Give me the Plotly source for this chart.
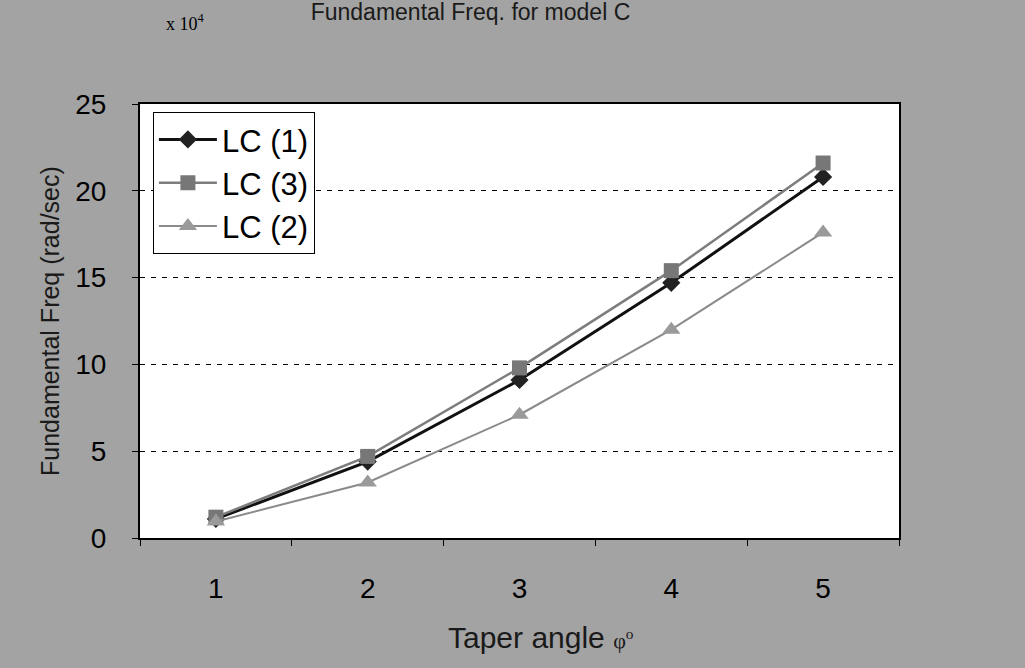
import plotly.graph_objects as go

categories = ["1", "2", "3", "4", "5"]
lc1 = [1.1, 4.4, 9.1, 14.7, 20.8]
lc3 = [1.2, 4.7, 9.8, 15.4, 21.6]
lc2 = [0.95, 3.2, 7.1, 12.0, 17.6]
y_ticks = [0, 5, 10, 15, 20, 25]

FONT = "Liberation Sans, Arial, sans-serif"

fig = go.Figure()
fig.add_trace(go.Scatter(x=categories, y=lc1, name="LC (1)", mode="lines+markers",
                         line=dict(color="#111111", width=3),
                         marker=dict(symbol="diamond", size=14, color="#222222")))
fig.add_trace(go.Scatter(x=categories, y=lc3, name="LC (3)", mode="lines+markers",
                         line=dict(color="#7d7d7d", width=2.5),
                         marker=dict(symbol="square", size=15, color="#777777")))
fig.add_trace(go.Scatter(x=categories, y=lc2, name="LC (2)", mode="lines+markers",
                         line=dict(color="#8a8a8a", width=2),
                         marker=dict(symbol="triangle-up", size=16, color="#9a9a9a")))

fig.update_layout(
    width=1025, height=668,
    margin=dict(l=140, r=126, t=104, b=130),
    paper_bgcolor="#a3a3a3",
    plot_bgcolor="white",
    font=dict(family=FONT, color="black"),
    title=dict(text="Fundamental Freq. for model C", x=0.459, xanchor="center",
               y=0.982, yanchor="middle", font=dict(size=23, color="#1a1a1a")),
    showlegend=True,
    legend=dict(x=0.017, y=0.982, xanchor="left", yanchor="top",
                bgcolor="white", bordercolor="black", borderwidth=1,
                font=dict(size=31), tracegroupgap=0, itemwidth=58),
    xaxis=dict(type="category", range=[-0.5, 4.5], tickson="boundaries",
               ticks="outside", ticklen=6, tickcolor="black",
               showline=True, linecolor="black", linewidth=2, mirror=True,
               showgrid=False, tickfont=dict(size=28), ticklabelstandoff=24),
    yaxis=dict(range=[0, 25], tickvals=y_ticks, ticks="outside", ticklen=6,
               tickcolor="black", showline=True, linecolor="black", linewidth=2,
               mirror=True, showgrid=True, gridcolor="black", gridwidth=1,
               griddash="5px,6px", zeroline=False,
               tickfont=dict(size=28), ticklabelstandoff=20),
)

fig.add_annotation(text="x 10<sup>4</sup>", xref="paper", yref="paper",
                   x=(164 - 140) / 759, y=(538 - 22) / 434, xanchor="left", yanchor="middle",
                   showarrow=False, font=dict(family="Liberation Serif, Times New Roman, serif", size=18))
fig.add_annotation(text="Fundamental Freq (rad/sec)", xref="paper", yref="paper",
                   x=(50 - 140) / 759, y=0.5, xanchor="center", yanchor="middle",
                   textangle=-90, showarrow=False, font=dict(size=25, color="#1a1a1a"))
fig.add_annotation(text="Taper angle <span style='font-family:Liberation Serif;font-size:22px;color:#1a1a1a'>φ<sup>o</sup></span>",
                   xref="paper", yref="paper",
                   x=(541 - 140) / 759, y=(538 - 637) / 434, xanchor="center", yanchor="middle",
                   showarrow=False, font=dict(size=30, color="#1a1a1a"))

fig.write_html("out.html")
